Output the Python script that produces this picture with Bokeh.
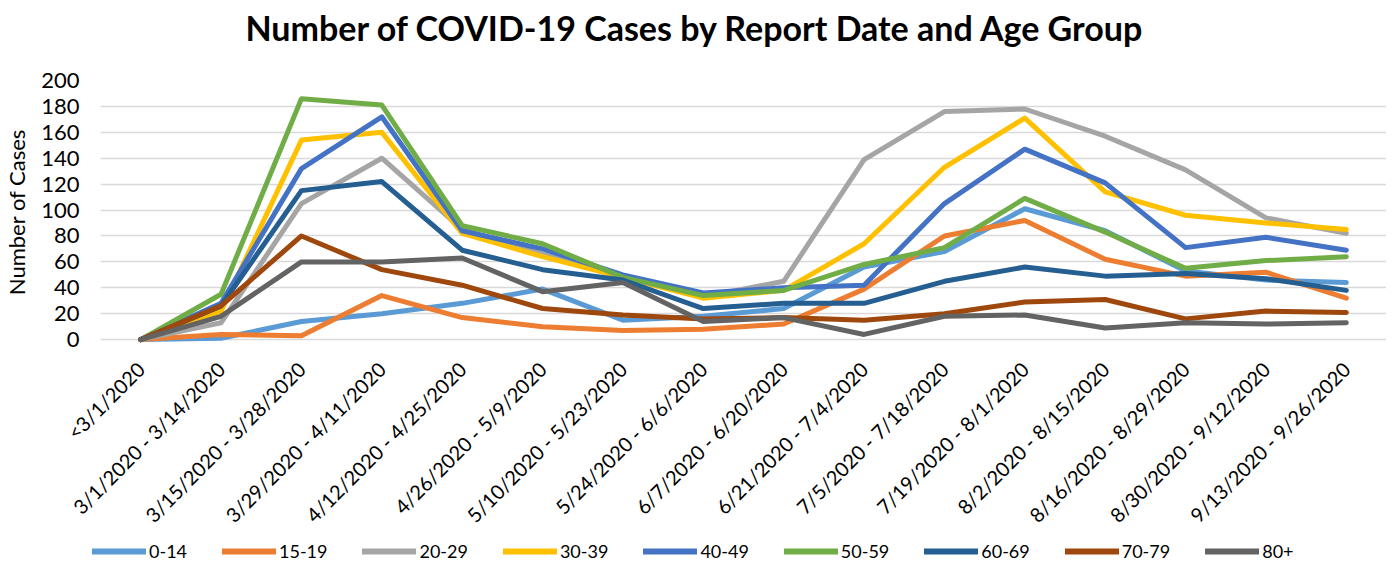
import math
from bokeh.plotting import figure
from bokeh.layouts import column
from bokeh.models import FactorRange, Range1d, FixedTicker, Legend, LegendItem, Label
from bokeh.embed import file_html
from bokeh.resources import INLINE

categories = ["<3/1/2020", "3/1/2020 - 3/14/2020", "3/15/2020 - 3/28/2020",
              "3/29/2020 - 4/11/2020", "4/12/2020 - 4/25/2020", "4/26/2020 - 5/9/2020",
              "5/10/2020 - 5/23/2020", "5/24/2020 - 6/6/2020", "6/7/2020 - 6/20/2020",
              "6/21/2020 - 7/4/2020", "7/5/2020 - 7/18/2020", "7/19/2020 - 8/1/2020",
              "8/2/2020 - 8/15/2020", "8/16/2020 - 8/29/2020", "8/30/2020 - 9/12/2020",
              "9/13/2020 - 9/26/2020"]

age_0_14 = [0, 1, 14, 20, 28, 39, 15, 18, 24, 56, 68, 101, 84, 53, 46, 44]
age_15_19 = [0, 4, 3, 34, 17, 10, 7, 8, 12, 39, 80, 92, 62, 49, 52, 32]
age_20_29 = [0, 13, 105, 140, 85, 66, 49, 33, 45, 139, 176, 178, 157, 131, 94, 82]
age_30_39 = [0, 22, 154, 160, 82, 64, 48, 32, 38, 74, 133, 171, 114, 96, 90, 85]
age_40_49 = [0, 28, 132, 172, 84, 70, 50, 36, 40, 42, 105, 147, 121, 71, 79, 69]
age_50_59 = [0, 35, 186, 181, 88, 74, 48, 34, 38, 58, 71, 109, 83, 55, 61, 64]
age_60_69 = [0, 26, 115, 122, 69, 54, 46, 24, 28, 28, 45, 56, 49, 51, 47, 38]
age_70_79 = [0, 26, 80, 54, 42, 24, 19, 16, 17, 15, 20, 29, 31, 16, 22, 21]
age_80_plus = [0, 18, 60, 60, 63, 37, 44, 14, 17, 4, 18, 19, 9, 13, 12, 13]

series_names = ["0-14", "15-19", "20-29", "30-39", "40-49", "50-59", "60-69", "70-79", "80+"]
series_values = [age_0_14, age_15_19, age_20_29, age_30_39, age_40_49,
                 age_50_59, age_60_69, age_70_79, age_80_plus]
series_colors = ["#5B9BD5", "#ED7D31", "#A5A5A5", "#FFC000", "#4472C4",
                 "#70AD47", "#255E91", "#9E480E", "#636363"]
y_ticks = list(range(0, 201, 20))
title_text = "Number of COVID-19 Cases by Report Date and Age Group"

FONT = "Lato"
W = 1380

# ---- title strip ----
pt = figure(frame_width=W, frame_height=60, output_backend="svg",
            toolbar_location=None, x_axis_type=None, y_axis_type=None,
            min_border_left=0, min_border_right=0, min_border_top=0,
            min_border_bottom=0)
pt.outline_line_color = None
pt.grid.visible = False
pt.add_layout(Label(x=595, y=33, x_units="screen", y_units="screen",
                    text=title_text, text_align="center",
                    text_baseline="alphabetic", text_font=FONT,
                    text_font_size="34px", text_font_style="bold",
                    text_color="black"))

# ---- main chart ----
p = figure(x_range=FactorRange(factors=categories), y_range=Range1d(-3, 200),
           frame_width=1286, frame_height=263, output_backend="svg",
           toolbar_location=None,
           min_border_left=0, min_border_right=0, min_border_top=20,
           min_border_bottom=53)

p.outline_line_color = None
p.xgrid.grid_line_color = None
p.ygrid.grid_line_color = "#D9D9D9"
p.ygrid.grid_line_width = 1.5

p.yaxis.ticker = FixedTicker(ticks=y_ticks)
p.yaxis.axis_label = "Number of Cases"
p.yaxis.axis_label_text_font = FONT
p.yaxis.axis_label_text_font_size = "22px"
p.yaxis.axis_label_text_font_style = "normal"
p.yaxis.axis_label_text_color = "black"
p.yaxis.axis_label_standoff = 8

for ax in (p.xaxis[0], p.yaxis[0]):
    ax.axis_line_color = None
    ax.major_tick_line_color = None
    ax.minor_tick_line_color = None
    ax.major_tick_out = 0
    ax.major_tick_in = 0
    ax.minor_tick_out = 0
    ax.major_label_text_font = FONT
    ax.major_label_text_color = "black"

p.yaxis.major_label_text_font_size = "22px"
p.yaxis.major_label_standoff = 21
p.xaxis.major_label_text_font_size = "20px"
p.xaxis.major_label_orientation = math.pi / 4
p.xaxis.major_label_standoff = 22

for vals, col in zip(series_values, series_colors):
    p.line(categories, vals, line_color=col, line_width=5,
           line_join="round", line_cap="round")

# ---- legend strip ----
pl = figure(x_range=FactorRange(factors=categories), y_range=Range1d(1000, 1001),
            frame_width=W, frame_height=28, output_backend="svg",
            toolbar_location=None, x_axis_type=None, y_axis_type=None,
            min_border_left=0, min_border_right=0, min_border_top=0,
            min_border_bottom=0)
pl.outline_line_color = None
pl.grid.visible = False
items = []
for name, vals, col in zip(series_names, series_values, series_colors):
    r = pl.line(categories, vals, line_color=col, line_width=6, line_cap="round")
    items.append(LegendItem(label=name, renderers=[r]))

legend = Legend(items=items, orientation="horizontal", location=(92, 4),
                border_line_color=None, background_fill_alpha=0,
                label_text_font=FONT, label_text_font_size="18px",
                label_text_color="black", glyph_width=54, glyph_height=20,
                label_standoff=3, spacing=35, padding=0, margin=0)
pl.add_layout(legend, "center")

layout = column(pt, p, pl, spacing=0)
open("out.html", "w").write(file_html(layout, INLINE))
